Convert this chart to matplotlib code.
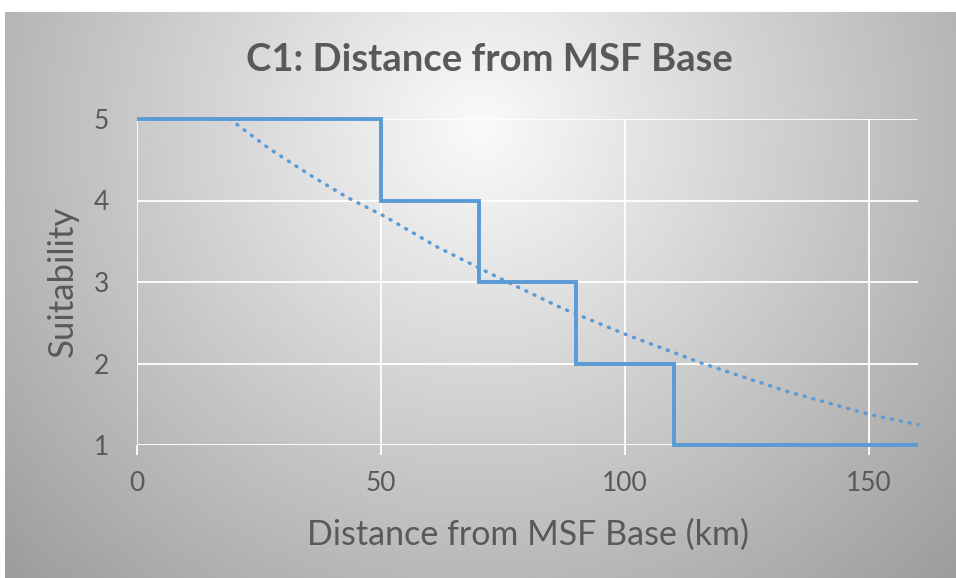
import numpy as np
import matplotlib
matplotlib.use('Agg')
import matplotlib.pyplot as plt

# step function: suitability score per distance band (km)
band_edges = [0, 50, 70, 90, 110, 160]
suitability = [5, 4, 3, 2, 1]

# dotted trendline
trend_x = [19, 27, 35.5, 43, 50.9, 61.5, 74.5, 87, 100, 115.9, 133, 150.4, 160]
trend_y = [5.0, 4.64, 4.31, 4.04, 3.80, 3.43, 3.04, 2.68, 2.36, 2.0, 1.66, 1.37, 1.25]

x_ticks = [0, 50, 100, 150]
y_ticks = [1, 2, 3, 4, 5]

blue = '#5B9BD5'
text_col = '#595959'
plt.rcParams['font.family'] = ['Lato', 'DejaVu Sans']

fig = plt.figure(figsize=(9.56, 5.78), dpi=100)
fig.patch.set_facecolor('white')

# radial gradient background like the Excel chart area
bg = fig.add_axes([5 / 956, 0, 1 - 5 / 956, 1 - 12 / 578], zorder=0)
gx, gy = np.meshgrid(np.linspace(0, 1, 400), np.linspace(0, 1, 250))
r = np.sqrt(((gx - 0.5) / 0.55) ** 2 + ((gy - 0.8) / 0.9) ** 2)
shade = np.clip(0.98 - 0.29 * r, 0, 1)
bg.imshow(shade, cmap='gray', vmin=0, vmax=1, origin='lower',
          extent=[0, 1, 0, 1], aspect='auto', interpolation='bilinear')
bg.axis('off')

ax = fig.add_axes([137 / 956, 1 - 445 / 578, (918 - 137) / 956, (445 - 119) / 578], zorder=1)
ax.set_facecolor('none')
ax.stairs(suitability, band_edges, baseline=None, color=blue, linewidth=2.8,
          clip_on=False, zorder=3)
ax.plot(trend_x, trend_y, color=blue, linewidth=2.5, linestyle=(0, (0.3, 2.3)),
        dash_capstyle='round', clip_on=False, zorder=2)

ax.set_xlim(0, 160)
ax.set_ylim(1, 5)
ax.set_xticks(x_ticks)
ax.set_yticks(y_ticks)
ax.grid(True, color='white', linewidth=1.3, zorder=1)
ax.set_axisbelow(True)
for s in ax.spines.values():
    s.set_visible(False)
ax.tick_params(axis='x', length=7, color='white', width=1.3, pad=12,
               labelsize=19, labelcolor=text_col)
ax.tick_params(axis='y', length=0, pad=20, labelsize=19, labelcolor=text_col)

fig.text(0.512, 0.896, 'C1: Distance from MSF Base', ha='center', va='center',
         fontsize=27.5, fontweight='bold', color=text_col)
fig.text(0.552, 0.074, 'Distance from MSF Base (km)', ha='center', va='center',
         fontsize=24.5, color=text_col)
fig.text(0.066, 0.514, 'Suitability', ha='center', va='center', rotation=90,
         fontsize=25, color=text_col)

fig.savefig('out.png', dpi=100)
